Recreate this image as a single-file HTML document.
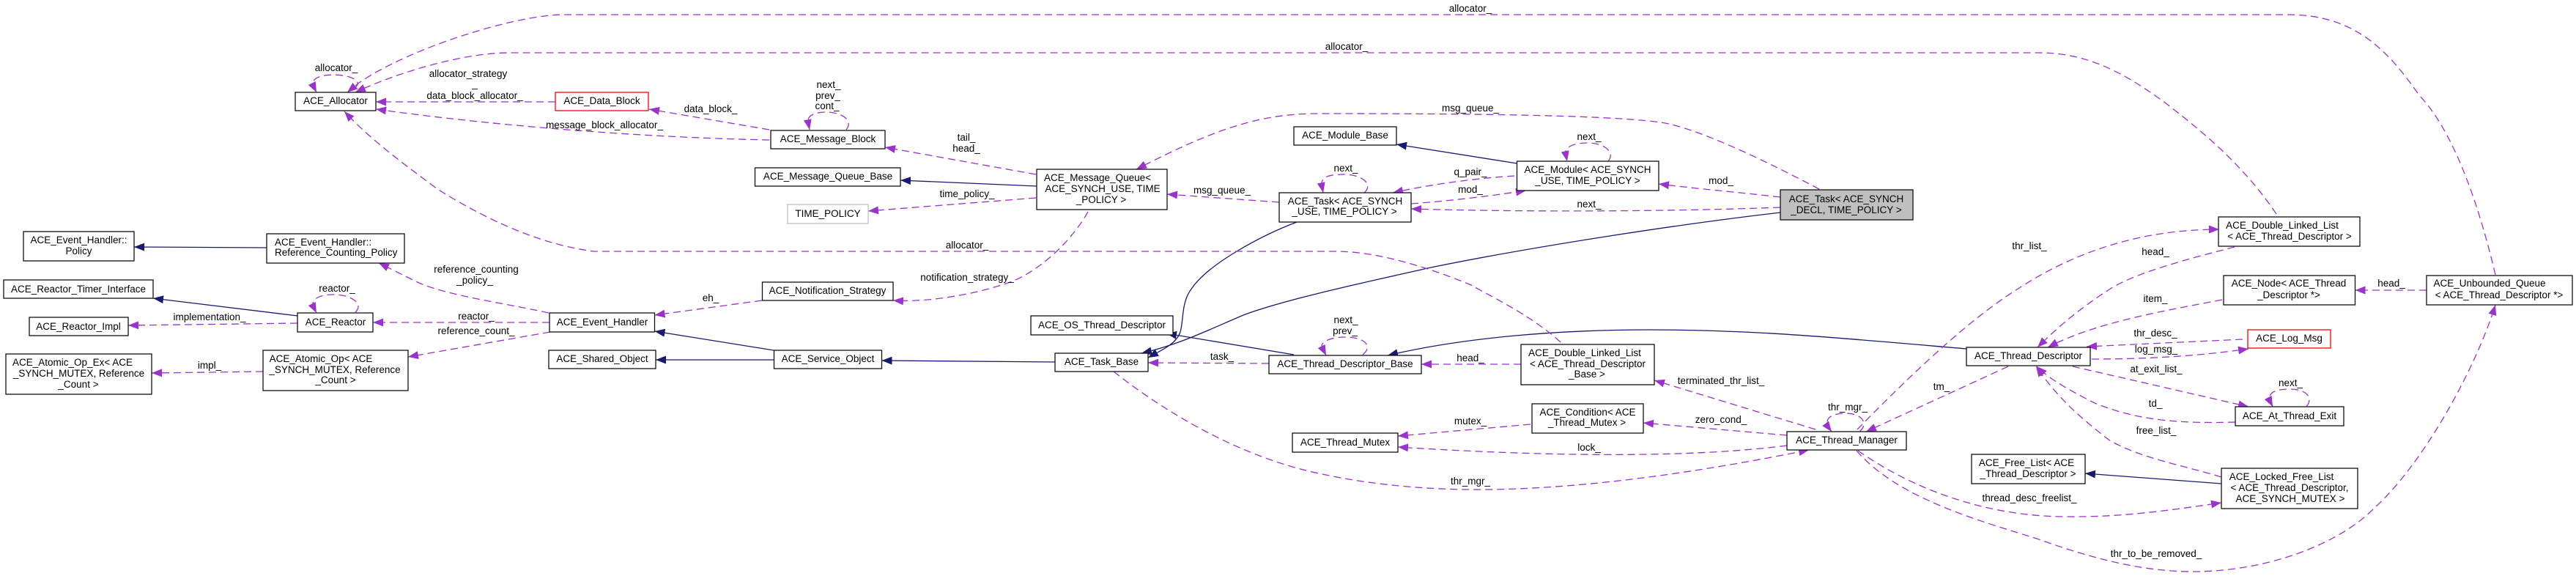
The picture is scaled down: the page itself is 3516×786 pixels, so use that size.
<!DOCTYPE html>
<html lang="en">
<head>
<meta charset="utf-8">
<title>ACE_Task collaboration diagram</title>
<style>
html,body{margin:0;padding:0;background:#fff;width:3516px;height:786px;overflow:hidden}
svg{display:block}
text{font-family:"Liberation Sans",sans-serif;font-size:13.5px;fill:#000;text-anchor:middle}
</style>
</head>
<body>
<svg xmlns="http://www.w3.org/2000/svg" width="3516" height="786" viewBox="0 0 3516 786">
<defs>
<marker id="p" markerUnits="userSpaceOnUse" markerWidth="15" markerHeight="12" refX="14" refY="5.5" orient="auto"><path d="M0,0L14,5.5L0,11Z" fill="#9a32cd"/></marker>
<marker id="b" markerUnits="userSpaceOnUse" markerWidth="15" markerHeight="12" refX="14" refY="5.5" orient="auto"><path d="M0,0L14,5.5L0,11Z" fill="#191970"/></marker>
</defs>

<!-- inheritance edges -->
<g fill="none" stroke="#191970" stroke-width="1.3" marker-end="url(#b)">
<path d="M364 338L183 337"/>
<path d="M406 431L209 407"/>
<path d="M1056 491L895 491"/>
<path d="M1056 478L893.5 452"/>
<path d="M1440 494L1203.5 492"/>
<path d="M1415 254L1229 246"/>
<path d="M1766 484L1592 455"/>
<path d="M2070.5 223L1906 197"/>
<path d="M1770 303C1720 322 1650 360 1627 393C1612 412 1616 435 1611 453C1605 470 1585 478 1567 488"/>
<path d="M2430 290C2300 305 2100 335 1953 365C1850 388 1750 410 1697 430C1650 450 1610 470 1558 482"/>
<path d="M2684 476C2590 468 2480 458 2400 454C2340 451 2280 450 2252 450C2130 450 2000 460 1894 485"/>
<path d="M3032 660L2846 646"/>
</g>

<!-- usage edges -->
<g fill="none" stroke="#9a32cd" stroke-width="1.3" stroke-dasharray="10 6" marker-end="url(#p)">
<path d="M3406 375C3380 265 3345 175 3302 130C3260 70 3215 20 3123 20L765 20C700 22 560 65 490 113L474 126"/>
<path d="M3107 292C3060 222 3000 175 2955 140C2900 100 2850 72 2783 72L696 72C630 72 540 100 485 126"/>
<path d="M2130 467C2090 430 2030 402 2008 389C1950 365 1880 343 1823 343L810 343C750 335 680 310 597 258C560 230 510 195 470 152"/>
<path d="M758 139L513 139"/>
<path d="M1050 191C900 188 700 175 513 149"/>
<path d="M1050 177L886 149"/>
<path d="M1155 177C1165 165 1150 153 1128 153C1112 153 1103 158 1103 164C1103 168 1104 172 1105 177"/>
<path d="M484 120C498 110 475 102 455 102C440 102 428 106 427 113C427 118 430 122 432 126"/>
<path d="M1414 238L1208 201"/>
<path d="M1414 270L1185 288"/>
<path d="M1485 289C1465 325 1425 365 1384 383C1340 400 1270 413 1219 410"/>
<path d="M2483 258C2420 225 2320 175 2267 167C2200 158 2050 155 1800 155C1720 155 1660 175 1551 231"/>
<path d="M1746 276L1593 265"/>
<path d="M1732 496L1567 495"/>
<path d="M1040 410L893.5 430"/>
<path d="M750 440L509 440"/>
<path d="M749 427C680 412 620 405 574 387C555 378 540 370 517 359"/>
<path d="M751 453L557 487"/>
<path d="M406 441L175 444"/>
<path d="M485 426C497 415 480 402 455 402C440 402 428 406 427 414C427 419 430 423 432 427"/>
<path d="M359 507L207 509"/>
<path d="M2067 240C2020 243 1960 250 1901 263"/>
<path d="M1926 278C1980 274 2030 268 2083 260"/>
<path d="M2430 269C2370 262 2320 258 2264 251"/>
<path d="M2430 283C2300 288 2100 290 1926 285"/>
<path d="M1862 263C1875 252 1860 238 1834 238C1818 238 1806 240 1804 249C1804 254 1805 258 1806 263"/>
<path d="M2195 220C2205 208 2190 195 2167 195C2152 195 2139 199 2137 206C2137 211 2138 215 2139 220"/>
<path d="M1860 484C1875 472 1862 460 1836 460C1820 460 1807 464 1804 471C1805 476 1808 481 1810 485"/>
<path d="M2076 497L1940 497"/>
<path d="M2478 586L2258 519"/>
<path d="M2439 594L2243 577"/>
<path d="M2089 579L1908 595"/>
<path d="M2439 608C2330 622 2160 626 1908 610"/>
<path d="M1520 507C1600 570 1700 625 1800 646C1900 668 2000 670 2070 667C2200 662 2340 640 2469 614"/>
<path d="M2538 589C2552 577 2540 564 2519 564C2505 564 2495 568 2494 575C2494 580 2497 585 2500 589"/>
<path d="M2535 586C2590 530 2680 440 2756 393C2830 345 2920 313 3029 313"/>
<path d="M2741 500L2547 589"/>
<path d="M3050 337C3000 350 2920 370 2882 393C2840 420 2810 445 2781 474"/>
<path d="M3033 409C2950 425 2860 440 2795 474"/>
<path d="M3061 463L2848 473"/>
<path d="M2855 490C2930 490 3000 486 3069 476"/>
<path d="M2829 500L3069 555"/>
<path d="M3051 576C2980 578 2920 575 2859 550C2830 535 2800 520 2780 500"/>
<path d="M3032 651C2980 635 2920 625 2878 600C2840 570 2810 545 2779 500"/>
<path d="M2536 615C2600 660 2700 705 2821 705C2900 706 2970 695 3032 686"/>
<path d="M2534 615C2590 680 2700 710 2783 736C2850 760 2920 780 2993 780C3090 780 3190 745 3241 693C3310 630 3380 500 3406 416"/>
<path d="M3312 396L3214.5 396"/>
<path d="M3148 555C3158 543 3148 531 3126 531C3112 531 3100 533 3098 541C3098 546 3100 551 3102 555"/>
</g>

<!-- nodes -->
<g fill="#fff" stroke="#111" stroke-width="1.3">
<rect x="403" y="126" width="110" height="25"/>
<rect x="32" y="316" width="151" height="40"/>
<rect x="364" y="319" width="188" height="40"/>
<rect x="5" y="382" width="204" height="25"/>
<rect x="40" y="433" width="135" height="25"/>
<rect x="406" y="427" width="103" height="26"/>
<rect x="8" y="483" width="199" height="55"/>
<rect x="359" y="478" width="198" height="55"/>
<rect x="1052" y="178" width="156" height="25"/>
<rect x="1030.5" y="229" width="198.5" height="25"/>
<rect x="1040.5" y="385" width="178.5" height="25"/>
<rect x="750" y="427" width="143.5" height="26"/>
<rect x="749" y="478" width="146" height="25"/>
<rect x="1056.5" y="478" width="147" height="25"/>
<rect x="1415" y="231" width="178" height="55"/>
<rect x="1746" y="263" width="180" height="40"/>
<rect x="1766" y="173" width="140" height="25"/>
<rect x="2070.5" y="220" width="193.5" height="40"/>
<rect x="1407" y="431" width="194" height="26"/>
<rect x="1440" y="482" width="127" height="25"/>
<rect x="1732" y="485" width="208" height="25"/>
<rect x="2076" y="470" width="182" height="55"/>
<rect x="2091" y="551" width="152" height="40"/>
<rect x="1764" y="591" width="144" height="26"/>
<rect x="2439" y="589" width="163" height="25"/>
<rect x="2684" y="474" width="169" height="25"/>
<rect x="2691" y="620" width="155" height="40"/>
<rect x="3028" y="296" width="193" height="40"/>
<rect x="3035" y="376" width="179.5" height="40"/>
<rect x="3312" y="376" width="199" height="40"/>
<rect x="3051" y="555" width="148" height="26"/>
<rect x="3032" y="639" width="186" height="55"/>
</g>
<rect x="758" y="126" width="127" height="25" fill="#fff" stroke="#ff0000" stroke-width="1.3"/>
<rect x="3068" y="450" width="113" height="25" fill="#fff" stroke="#ff0000" stroke-width="1.3"/>
<rect x="1075" y="279" width="110" height="26" fill="#fff" stroke="#bfbfbf" stroke-width="1.3"/>
<rect x="2430" y="259" width="181" height="41" fill="#bfbfbf" stroke="#111" stroke-width="1.3"/>

<!-- node labels -->
<text x="458" y="142">ACE_Allocator</text>
<text x="107.5" y="332">ACE_Event_Handler::</text>
<text x="107.5" y="347">Policy</text>
<text x="375" y="335" style="text-anchor:start">ACE_Event_Handler::</text>
<text x="375" y="349" style="text-anchor:start">Reference_Counting_Policy</text>
<text x="107" y="399">ACE_Reactor_Timer_Interface</text>
<text x="107" y="450">ACE_Reactor_Impl</text>
<text x="458" y="444">ACE_Reactor</text>
<text x="99" y="499">ACE_Atomic_Op_Ex&lt; ACE</text>
<text x="107.5" y="514">_SYNCH_MUTEX, Reference</text>
<text x="107" y="529">_Count &gt;</text>
<text x="438" y="494">ACE_Atomic_Op&lt; ACE</text>
<text x="457" y="509">_SYNCH_MUTEX, Reference</text>
<text x="458" y="523">_Count &gt;</text>
<text x="821.5" y="142">ACE_Data_Block</text>
<text x="1130" y="194">ACE_Message_Block</text>
<text x="1130" y="245">ACE_Message_Queue_Base</text>
<text x="1130" y="296">TIME_POLICY</text>
<text x="1129.5" y="401">ACE_Notification_Strategy</text>
<text x="822" y="444">ACE_Event_Handler</text>
<text x="822" y="494">ACE_Shared_Object</text>
<text x="1130" y="494">ACE_Service_Object</text>
<text x="1498" y="247">ACE_Message_Queue&lt;</text>
<text x="1505" y="262">ACE_SYNCH_USE, TIME</text>
<text x="1503" y="277">_POLICY &gt;</text>
<text x="1836" y="279">ACE_Task&lt; ACE_SYNCH</text>
<text x="1835" y="293">_USE, TIME_POLICY &gt;</text>
<text x="1836" y="189">ACE_Module_Base</text>
<text x="2167" y="236">ACE_Module&lt; ACE_SYNCH</text>
<text x="2167" y="251">_USE, TIME_POLICY &gt;</text>
<text x="2520" y="276">ACE_Task&lt; ACE_SYNCH</text>
<text x="2520" y="291">_DECL, TIME_POLICY &gt;</text>
<text x="1504" y="448">ACE_OS_Thread_Descriptor</text>
<text x="1503.5" y="498">ACE_Task_Base</text>
<text x="1836" y="501">ACE_Thread_Descriptor_Base</text>
<text x="2163" y="486">ACE_Double_Linked_List</text>
<text x="2167" y="501">&lt; ACE_Thread_Descriptor</text>
<text x="2166" y="515">_Base &gt;</text>
<text x="2167" y="567">ACE_Condition&lt; ACE</text>
<text x="2166" y="581">_Thread_Mutex &gt;</text>
<text x="1836" y="608">ACE_Thread_Mutex</text>
<text x="2520.5" y="605">ACE_Thread_Manager</text>
<text x="2768.5" y="490">ACE_Thread_Descriptor</text>
<text x="2766" y="636">ACE_Free_List&lt; ACE</text>
<text x="2768" y="651">_Thread_Descriptor &gt;</text>
<text x="3115" y="312">ACE_Double_Linked_List</text>
<text x="3125" y="327">&lt; ACE_Thread_Descriptor &gt;</text>
<text x="3124" y="391">ACE_Node&lt; ACE_Thread</text>
<text x="3124" y="407">_Descriptor *&gt;</text>
<text x="3398" y="391">ACE_Unbounded_Queue</text>
<text x="3411" y="407">&lt; ACE_Thread_Descriptor *&gt;</text>
<text x="3124.5" y="466">ACE_Log_Msg</text>
<text x="3125" y="572">ACE_At_Thread_Exit</text>
<text x="3114" y="655">ACE_Locked_Free_List</text>
<text x="3125" y="670">&lt; ACE_Thread_Descriptor,</text>
<text x="3126" y="685">ACE_SYNCH_MUTEX &gt;</text>

<!-- edge labels -->
<text x="459" y="97">allocator_</text>
<text x="639" y="105">allocator_strategy</text>
<text x="648" y="119">_</text>
<text x="648" y="135">data_block_allocator_</text>
<text x="825" y="175">message_block_allocator_</text>
<text x="970" y="153">data_block_</text>
<text x="1131" y="120">next_</text>
<text x="1130" y="135">prev_</text>
<text x="1129" y="149">cont_</text>
<text x="1319" y="192">tail_</text>
<text x="1319" y="207">head_</text>
<text x="1320" y="269">time_policy_</text>
<text x="1320" y="339">allocator_</text>
<text x="1320" y="383">notification_strategy_</text>
<text x="1668" y="264">msg_queue_</text>
<text x="650" y="372">reference_counting</text>
<text x="648" y="387">_policy_</text>
<text x="460" y="398">reactor_</text>
<text x="286" y="437">implementation_</text>
<text x="286" y="503">impl_</text>
<text x="650" y="436">reactor_</text>
<text x="650" y="456">reference_count_</text>
<text x="970" y="411">eh_</text>
<text x="1668" y="491">task_</text>
<text x="1837" y="441">next_</text>
<text x="1836" y="456">prev_</text>
<text x="2007" y="661">thr_mgr_</text>
<text x="2007" y="493">head_</text>
<text x="2007" y="579">mutex_</text>
<text x="2349" y="577">zero_cond_</text>
<text x="2169" y="615">lock_</text>
<text x="2349" y="524">terminated_thr_list_</text>
<text x="2007" y="16">allocator_</text>
<text x="1838" y="68">allocator_</text>
<text x="2007" y="152">msg_queue_</text>
<text x="1837" y="234">next_</text>
<text x="2169" y="191">next_</text>
<text x="2007" y="239">q_pair_</text>
<text x="2007" y="263">mod_</text>
<text x="2349" y="251">mod_</text>
<text x="2169" y="283">next_</text>
<text x="2770" y="340">thr_list_</text>
<text x="2942" y="348">head_</text>
<text x="2942" y="412">item_</text>
<text x="2942" y="459">thr_desc_</text>
<text x="2943" y="481">log_msg_</text>
<text x="2943" y="508">at_exit_list_</text>
<text x="2942" y="555">td_</text>
<text x="2943" y="592">free_list_</text>
<text x="2650" y="532">tm_</text>
<text x="2522" y="560">thr_mgr_</text>
<text x="2770" y="684">thread_desc_freelist_</text>
<text x="2943" y="760">thr_to_be_removed_</text>
<text x="3264" y="391">head_</text>
<text x="3126.5" y="527">next_</text>
</svg>
</body>
</html>
